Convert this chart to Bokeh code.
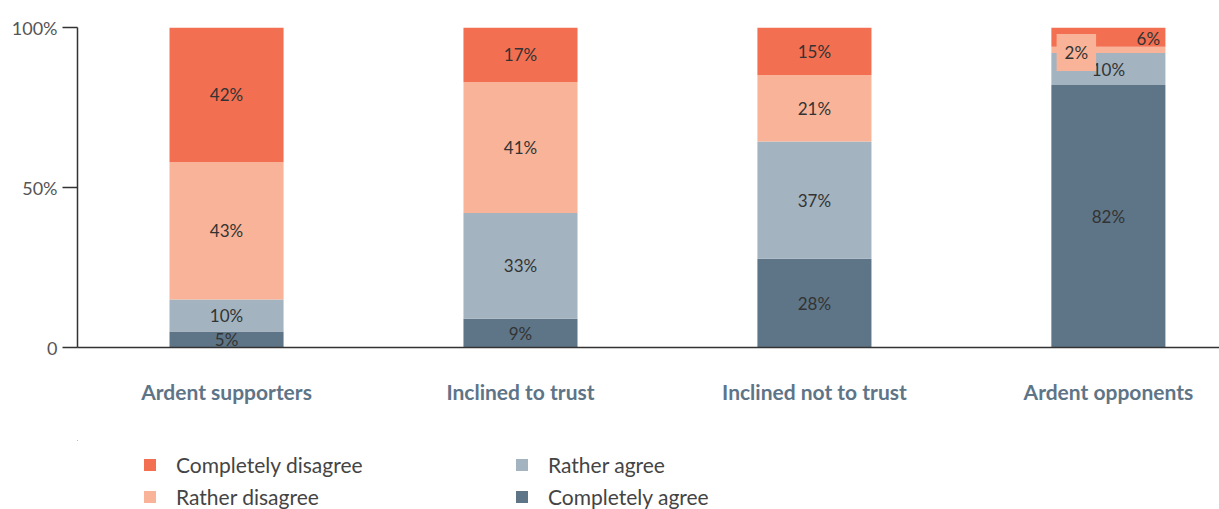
from bokeh.plotting import figure
from bokeh.layouts import column
from bokeh.models import ColumnDataSource, Range1d, FixedTicker, Legend, LegendItem
from bokeh.core.properties import value
from bokeh.embed import file_html
from bokeh.resources import INLINE

# ---------------- data ----------------
categories = ["Ardent supporters", "Inclined to trust", "Inclined not to trust", "Ardent opponents"]
series = ["Completely agree", "Rather agree", "Rather disagree", "Completely disagree"]
completely_agree = [5, 9, 28, 82]
rather_agree = [10, 33, 37, 10]
rather_disagree = [43, 41, 21, 2]
completely_disagree = [42, 17, 15, 6]
y_ticks = [0, 50, 100]
y_tick_labels = ["0", "50%", "100%"]
legend_col1 = ["Completely disagree", "Rather disagree"]
legend_col2 = ["Rather agree", "Completely agree"]

# ---------------- style ----------------
FONT = "Lato"
colors = {
    "Completely agree": "#5E7587",
    "Rather agree": "#A3B3C0",
    "Rather disagree": "#F9B398",
    "Completely disagree": "#F26F51",
}
BAR_WIDTH = 0.388
# label shifts for crowded segments: (dx in category units, dy in % units)
label_shift = {(3, "Completely disagree"): (0.136, -0.5), (3, "Rather disagree"): (-0.109, -0.8)}

values = {
    "Completely agree": completely_agree,
    "Rather agree": rather_agree,
    "Rather disagree": rather_disagree,
    "Completely disagree": completely_disagree,
}

xs = list(range(len(categories)))
totals = [sum(values[s][i] for s in series) for i in xs]
norm = {s: [values[s][i] / totals[i] * 100 for i in xs] for s in series}

src = ColumnDataSource(dict(x=xs, **{s: norm[s] for s in series}))

p = figure(
    frame_width=1142, frame_height=320,
    x_range=Range1d(-0.507, 3.378), y_range=Range1d(0, 100),
    output_backend="svg", toolbar_location=None,
    min_border_left=77, min_border_right=0, min_border_top=27, min_border_bottom=93,
)
p.outline_line_color = None
p.xgrid.visible = False
p.ygrid.visible = False
p.background_fill_color = "white"
p.border_fill_color = "white"

renderers = p.vbar_stack(series, x="x", width=BAR_WIDTH, source=src,
                         color=[colors[s] for s in series], line_color=None)

lx, ly, lt = [], [], []
bx, by, bt = [], [], []
for i in xs:
    base = 0.0
    for s in series:
        h = norm[s][i]
        mid = base + h / 2
        txt = f"{values[s][i]}%"
        dx, dy = label_shift.get((i, s), (0.0, 0.0))
        if values[s][i] < 4:
            bx.append(i + dx); by.append(mid + dy); bt.append(txt)
        else:
            lx.append(i + dx); ly.append(mid + dy); lt.append(txt)
        base += h

p.text(x=lx, y=ly, text=lt, text_align="center", text_baseline="middle",
       text_font=value(FONT), text_font_size="17px", text_color="#333333")
p.text(x=bx, y=by, text=bt, text_align="center", text_baseline="middle",
       text_font=value(FONT), text_font_size="17px", text_color="#333333",
       background_fill_color=colors["Rather disagree"], padding=8)

p.yaxis.ticker = FixedTicker(ticks=y_ticks)
p.yaxis.major_label_overrides = {t: l for t, l in zip(y_ticks, y_tick_labels)}
p.yaxis.major_tick_out = 15
p.yaxis.major_tick_in = 0
p.yaxis.minor_tick_line_color = None
p.yaxis.axis_line_color = "#333333"
p.yaxis.axis_line_width = 1.5
p.yaxis.major_tick_line_color = "#333333"
p.yaxis.major_tick_line_width = 1.5
p.yaxis.major_label_standoff = 5
p.yaxis.major_label_text_font = FONT
p.yaxis.major_label_text_font_size = "18px"
p.yaxis.major_label_text_color = "#555555"

p.xaxis.ticker = FixedTicker(ticks=xs)
p.xaxis.major_label_overrides = {i: c for i, c in zip(xs, categories)}
p.xaxis.major_tick_out = 0
p.xaxis.major_tick_in = 0
p.xaxis.minor_tick_line_color = None
p.xaxis.axis_line_color = "#333333"
p.xaxis.axis_line_width = 1.5
p.xaxis.major_label_standoff = 31
p.xaxis.major_label_text_font = FONT
p.xaxis.major_label_text_font_style = "bold"
p.xaxis.major_label_text_font_size = "21px"
p.xaxis.major_label_text_color = "#5E7487"

# ---------------- legend strip (same stacked series, view range holds no bars) ----------------
p2 = figure(width=1219, height=69, x_range=Range1d(10, 11), y_range=Range1d(-10, -9),
            output_backend="svg", toolbar_location=None,
            x_axis_location=None, y_axis_location=None,
            min_border_left=0, min_border_right=0, min_border_top=0, min_border_bottom=0)
p2.grid.visible = False
p2.outline_line_color = None
p2.background_fill_color = "white"
p2.border_fill_color = "white"

proxy = p2.vbar_stack(series, x="x", width=BAR_WIDTH, source=src,
                      color=[colors[s] for s in series], line_color=None)
legend_renderers = dict(zip(series, proxy))

def make_legend(names, loc):
    lg = Legend(
        items=[LegendItem(label=n, renderers=[legend_renderers[n]]) for n in names],
        location=loc, orientation="vertical",
        label_text_font=FONT, label_text_font_size="21px", label_text_color="#444444",
        glyph_width=15, glyph_height=15, label_standoff=19, spacing=7,
        padding=0, margin=0, border_line_color=None, background_fill_alpha=0,
    )
    p2.add_layout(lg)

# positions relative to the aligned frame (frame starts below the main plot's frame)
make_legend(legend_col1, (65, 0))
make_legend(legend_col2, (437, 0))

open("out.html", "w").write(file_html(column(p, p2), INLINE))
